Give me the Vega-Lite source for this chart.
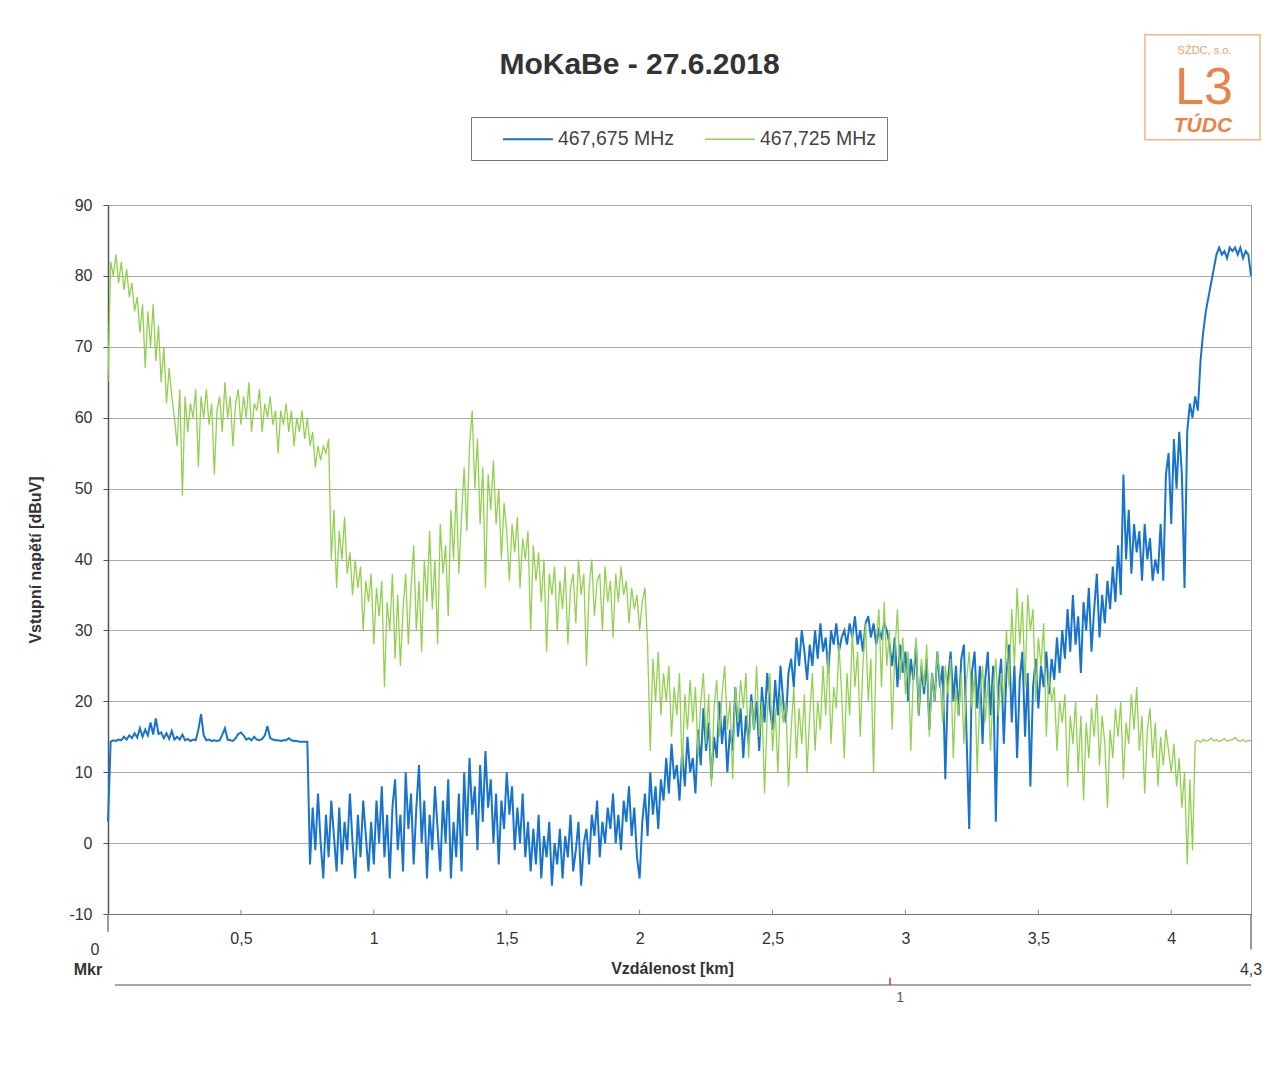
{
"$schema": "https://vega.github.io/schema/vega-lite/v6.json",
"width": 1143, "height": 709,
"autosize": {"type": "none"},
"padding": {"left": 108, "top": 205, "right": 23, "bottom": 152},
"background": "white",
"title": {"text": "MoKaBe - 27.6.2018", "fontSize": 30, "font": "Liberation Sans", "fontWeight": "bold", "color": "#333333", "anchor": "middle", "frame": "group", "dx": -40, "offset": -46},
"config": {"view": {"stroke": "#999999", "strokeWidth": 1}, "font": "Liberation Sans"},
"layer": [
{
"data": {"values": [
{"d":0,"a":3,"b":65},{"d":0.01,"a":14.3,"b":82},{"d":0.02,"a":14.5,"b":80},{"d":0.03,"a":14.4,"b":83},{"d":0.04,"a":14.6,"b":79},{"d":0.05,"a":14.5,"b":82},{"d":0.06,"a":15,"b":78},{"d":0.07,"a":14.6,"b":81},{"d":0.08,"a":15.2,"b":77},{"d":0.09,"a":14.8,"b":79},
{"d":0.1,"a":15.5,"b":75},{"d":0.11,"a":14.9,"b":77},{"d":0.12,"a":16.2,"b":72},{"d":0.13,"a":15,"b":76},{"d":0.14,"a":16,"b":67},{"d":0.15,"a":15.2,"b":75},{"d":0.16,"a":17,"b":70},{"d":0.17,"a":15.3,"b":76},{"d":0.18,"a":17.6,"b":68},{"d":0.19,"a":15.4,"b":73},
{"d":0.2,"a":15.6,"b":65},{"d":0.21,"a":14.8,"b":70},{"d":0.22,"a":15.5,"b":62},{"d":0.23,"a":14.7,"b":67},{"d":0.24,"a":15.8,"b":63},{"d":0.25,"a":14.6,"b":60},{"d":0.26,"a":15,"b":56},{"d":0.27,"a":14.6,"b":64},{"d":0.28,"a":15.3,"b":49},{"d":0.29,"a":14.5,"b":63},
{"d":0.3,"a":14.7,"b":58},{"d":0.31,"a":14.4,"b":62},{"d":0.32,"a":14.6,"b":60},{"d":0.33,"a":14.5,"b":64},{"d":0.34,"a":16,"b":53},{"d":0.35,"a":18.2,"b":63},{"d":0.36,"a":15.2,"b":60},{"d":0.37,"a":14.5,"b":64},{"d":0.38,"a":14.6,"b":59},{"d":0.39,"a":14.4,"b":62},
{"d":0.4,"a":14.5,"b":52},{"d":0.41,"a":14.4,"b":61},{"d":0.42,"a":14.5,"b":63},{"d":0.43,"a":15.3,"b":58},{"d":0.44,"a":16.2,"b":65},{"d":0.45,"a":14.6,"b":60},{"d":0.46,"a":14.5,"b":63},{"d":0.47,"a":14.4,"b":56},{"d":0.48,"a":14.8,"b":62},{"d":0.49,"a":15.4,"b":64},
{"d":0.5,"a":15.6,"b":59},{"d":0.51,"a":15.2,"b":63},{"d":0.52,"a":14.6,"b":60},{"d":0.53,"a":14.8,"b":65},{"d":0.54,"a":14.5,"b":58},{"d":0.55,"a":15,"b":62},{"d":0.56,"a":14.6,"b":61},{"d":0.57,"a":14.5,"b":64},{"d":0.58,"a":14.7,"b":58},{"d":0.59,"a":15.2,"b":62},
{"d":0.6,"a":16.5,"b":60},{"d":0.61,"a":14.8,"b":63},{"d":0.62,"a":14.6,"b":59},{"d":0.63,"a":14.5,"b":61},{"d":0.64,"a":14.5,"b":55},{"d":0.65,"a":14.4,"b":61},{"d":0.66,"a":14.5,"b":59},{"d":0.67,"a":14.5,"b":62},{"d":0.68,"a":14.8,"b":58},{"d":0.69,"a":14.5,"b":61},
{"d":0.7,"a":14.4,"b":56},{"d":0.71,"a":14.4,"b":60},{"d":0.72,"a":14.3,"b":58},{"d":0.73,"a":14.3,"b":61},{"d":0.74,"a":14.3,"b":57},{"d":0.75,"a":14.3,"b":60},{"d":0.76,"a":-3,"b":56},{"d":0.77,"a":5,"b":58},{"d":0.78,"a":-1,"b":53},{"d":0.79,"a":7,"b":56},
{"d":0.8,"a":0,"b":54},{"d":0.81,"a":-5,"b":56},{"d":0.82,"a":4,"b":55},{"d":0.83,"a":-2,"b":57},{"d":0.84,"a":6,"b":40},{"d":0.85,"a":1,"b":47},{"d":0.86,"a":-4,"b":36},{"d":0.87,"a":5,"b":44},{"d":0.88,"a":-3,"b":40},{"d":0.89,"a":3,"b":46},
{"d":0.9,"a":-1,"b":38},{"d":0.91,"a":7,"b":41},{"d":0.92,"a":0,"b":35},{"d":0.93,"a":-5,"b":40},{"d":0.94,"a":4,"b":36},{"d":0.95,"a":-2,"b":39},{"d":0.96,"a":6,"b":30},{"d":0.97,"a":1,"b":37},{"d":0.98,"a":-4,"b":34},{"d":0.99,"a":3,"b":38},
{"d":1,"a":-3,"b":28},{"d":1.01,"a":6,"b":36},{"d":1.02,"a":0,"b":32},{"d":1.03,"a":8,"b":37},{"d":1.04,"a":-2,"b":22},{"d":1.05,"a":4,"b":34},{"d":1.06,"a":-5,"b":30},{"d":1.07,"a":5,"b":38},{"d":1.08,"a":9,"b":26},{"d":1.09,"a":-1,"b":35},
{"d":1.1,"a":4,"b":25},{"d":1.11,"a":-4,"b":33},{"d":1.12,"a":10,"b":38},{"d":1.13,"a":2,"b":28},{"d":1.14,"a":7,"b":36},{"d":1.15,"a":-3,"b":42},{"d":1.16,"a":5,"b":30},{"d":1.17,"a":11,"b":37},{"d":1.18,"a":0,"b":27},{"d":1.19,"a":6,"b":40},
{"d":1.2,"a":-5,"b":34},{"d":1.21,"a":4,"b":44},{"d":1.22,"a":-1,"b":33},{"d":1.23,"a":8,"b":40},{"d":1.24,"a":2,"b":28},{"d":1.25,"a":-4,"b":45},{"d":1.26,"a":6,"b":38},{"d":1.27,"a":0,"b":42},{"d":1.28,"a":9,"b":32},{"d":1.29,"a":-5,"b":47},
{"d":1.3,"a":3,"b":40},{"d":1.31,"a":-2,"b":50},{"d":1.32,"a":7,"b":38},{"d":1.33,"a":-4,"b":46},{"d":1.34,"a":10,"b":53},{"d":1.35,"a":1,"b":44},{"d":1.36,"a":12,"b":56},{"d":1.37,"a":4,"b":61},{"d":1.38,"a":8,"b":50},{"d":1.39,"a":-1,"b":57},
{"d":1.4,"a":11,"b":45},{"d":1.41,"a":3,"b":53},{"d":1.42,"a":13,"b":36},{"d":1.43,"a":5,"b":52},{"d":1.44,"a":9,"b":47},{"d":1.45,"a":0,"b":54},{"d":1.46,"a":7,"b":45},{"d":1.47,"a":-3,"b":50},{"d":1.48,"a":6,"b":40},{"d":1.49,"a":2,"b":48},
{"d":1.5,"a":10,"b":44},{"d":1.51,"a":4,"b":37},{"d":1.52,"a":8,"b":45},{"d":1.53,"a":-1,"b":41},{"d":1.54,"a":5,"b":46},{"d":1.55,"a":0,"b":36},{"d":1.56,"a":7,"b":43},{"d":1.57,"a":-2,"b":40},{"d":1.58,"a":3,"b":44},{"d":1.59,"a":-4,"b":30},
{"d":1.6,"a":2,"b":42},{"d":1.61,"a":-3,"b":37},{"d":1.62,"a":4,"b":41},{"d":1.63,"a":-5,"b":34},{"d":1.64,"a":1,"b":40},{"d":1.65,"a":-2,"b":27},{"d":1.66,"a":3,"b":38},{"d":1.67,"a":-6,"b":35},{"d":1.68,"a":0,"b":39},{"d":1.69,"a":-3,"b":30},
{"d":1.7,"a":2,"b":37},{"d":1.71,"a":-5,"b":33},{"d":1.72,"a":1,"b":39},{"d":1.73,"a":-2,"b":28},{"d":1.74,"a":4,"b":36},{"d":1.75,"a":-4,"b":38},{"d":1.76,"a":-1,"b":31},{"d":1.77,"a":3,"b":40},{"d":1.78,"a":-6,"b":35},{"d":1.79,"a":0,"b":38},
{"d":1.8,"a":2,"b":25},{"d":1.81,"a":-3,"b":36},{"d":1.82,"a":4,"b":40},{"d":1.83,"a":1,"b":32},{"d":1.84,"a":6,"b":37},{"d":1.85,"a":-2,"b":38},{"d":1.86,"a":3,"b":30},{"d":1.87,"a":0,"b":39},{"d":1.88,"a":5,"b":34},{"d":1.89,"a":2,"b":37},
{"d":1.9,"a":7,"b":29},{"d":1.91,"a":0,"b":38},{"d":1.92,"a":4,"b":34},{"d":1.93,"a":-1,"b":39},{"d":1.94,"a":6,"b":35},{"d":1.95,"a":3,"b":37},{"d":1.96,"a":8,"b":31},{"d":1.97,"a":1,"b":36},{"d":1.98,"a":5,"b":33},{"d":1.99,"a":-2,"b":35},
{"d":2,"a":-5,"b":30},{"d":2.01,"a":3,"b":34},{"d":2.02,"a":7,"b":36},{"d":2.03,"a":1,"b":28},{"d":2.04,"a":10,"b":13},{"d":2.05,"a":4,"b":26},{"d":2.06,"a":8,"b":20},{"d":2.07,"a":2,"b":27},{"d":2.08,"a":9,"b":18},{"d":2.09,"a":6,"b":24},
{"d":2.1,"a":12,"b":20},{"d":2.11,"a":7,"b":25},{"d":2.12,"a":14,"b":15},{"d":2.13,"a":9,"b":22},{"d":2.14,"a":11,"b":18},{"d":2.15,"a":6,"b":24},{"d":2.16,"a":13,"b":10},{"d":2.17,"a":8,"b":21},{"d":2.18,"a":15,"b":16},{"d":2.19,"a":10,"b":23},
{"d":2.2,"a":12,"b":17},{"d":2.21,"a":7,"b":22},{"d":2.22,"a":16,"b":12},{"d":2.23,"a":11,"b":20},{"d":2.24,"a":19,"b":24},{"d":2.25,"a":13,"b":14},{"d":2.26,"a":17,"b":21},{"d":2.27,"a":9,"b":8},{"d":2.28,"a":15,"b":19},{"d":2.29,"a":12,"b":23},
{"d":2.3,"a":20,"b":15},{"d":2.31,"a":14,"b":21},{"d":2.32,"a":18,"b":25},{"d":2.33,"a":10,"b":16},{"d":2.34,"a":16,"b":20},{"d":2.35,"a":13,"b":9},{"d":2.36,"a":22,"b":22},{"d":2.37,"a":15,"b":17},{"d":2.38,"a":19,"b":23},{"d":2.39,"a":12,"b":19},
{"d":2.4,"a":18,"b":24},{"d":2.41,"a":14,"b":12},{"d":2.42,"a":21,"b":20},{"d":2.43,"a":16,"b":16},{"d":2.44,"a":20,"b":25},{"d":2.45,"a":13,"b":15},{"d":2.46,"a":22,"b":20},{"d":2.47,"a":17,"b":7},{"d":2.48,"a":24,"b":18},{"d":2.49,"a":19,"b":24},
{"d":2.5,"a":16,"b":13},{"d":2.51,"a":23,"b":19},{"d":2.52,"a":18,"b":10},{"d":2.53,"a":25,"b":21},{"d":2.54,"a":20,"b":17},{"d":2.55,"a":17,"b":20},{"d":2.56,"a":24,"b":8},{"d":2.57,"a":26,"b":16},{"d":2.58,"a":22,"b":22},{"d":2.59,"a":29,"b":12},
{"d":2.6,"a":25,"b":19},{"d":2.61,"a":30,"b":14},{"d":2.62,"a":27,"b":21},{"d":2.63,"a":23,"b":10},{"d":2.64,"a":28,"b":18},{"d":2.65,"a":25,"b":24},{"d":2.66,"a":30,"b":13},{"d":2.67,"a":26,"b":20},{"d":2.68,"a":31,"b":16},{"d":2.69,"a":27,"b":25},
{"d":2.7,"a":29,"b":18},{"d":2.71,"a":24,"b":27},{"d":2.72,"a":30,"b":14},{"d":2.73,"a":28,"b":22},{"d":2.74,"a":31,"b":19},{"d":2.75,"a":27,"b":28},{"d":2.76,"a":29,"b":21},{"d":2.77,"a":30,"b":12},{"d":2.78,"a":28,"b":24},{"d":2.79,"a":31,"b":18},
{"d":2.8,"a":29,"b":30},{"d":2.81,"a":32,"b":22},{"d":2.82,"a":28,"b":27},{"d":2.83,"a":30,"b":15},{"d":2.84,"a":27,"b":25},{"d":2.85,"a":31,"b":31},{"d":2.86,"a":32,"b":20},{"d":2.87,"a":29,"b":26},{"d":2.88,"a":31,"b":10},{"d":2.89,"a":28,"b":28},
{"d":2.9,"a":30,"b":33},{"d":2.91,"a":29,"b":22},{"d":2.92,"a":31,"b":34},{"d":2.93,"a":30,"b":25},{"d":2.94,"a":28,"b":30},{"d":2.95,"a":25,"b":16},{"d":2.96,"a":29,"b":27},{"d":2.97,"a":22,"b":33},{"d":2.98,"a":28,"b":23},{"d":2.99,"a":24,"b":29},
{"d":3,"a":27,"b":21},{"d":3.01,"a":20,"b":27},{"d":3.02,"a":26,"b":13},{"d":3.03,"a":23,"b":24},{"d":3.04,"a":28,"b":29},{"d":3.05,"a":18,"b":18},{"d":3.06,"a":25,"b":26},{"d":3.07,"a":21,"b":22},{"d":3.08,"a":26,"b":28},{"d":3.09,"a":16,"b":15},
{"d":3.1,"a":24,"b":24},{"d":3.11,"a":20,"b":20},{"d":3.12,"a":27,"b":27},{"d":3.13,"a":22,"b":23},{"d":3.14,"a":25,"b":17},{"d":3.15,"a":9,"b":25},{"d":3.16,"a":23,"b":21},{"d":3.17,"a":27,"b":26},{"d":3.18,"a":20,"b":12},{"d":3.19,"a":25,"b":22},
{"d":3.2,"a":18,"b":18},{"d":3.21,"a":26,"b":24},{"d":3.22,"a":28,"b":14},{"d":3.23,"a":15,"b":23},{"d":3.24,"a":2,"b":27},{"d":3.25,"a":24,"b":19},{"d":3.26,"a":27,"b":24},{"d":3.27,"a":19,"b":10},{"d":3.28,"a":25,"b":21},{"d":3.29,"a":14,"b":25},
{"d":3.3,"a":23,"b":17},{"d":3.31,"a":27,"b":23},{"d":3.32,"a":18,"b":13},{"d":3.33,"a":25,"b":22},{"d":3.34,"a":3,"b":26},{"d":3.35,"a":22,"b":18},{"d":3.36,"a":26,"b":24},{"d":3.37,"a":14,"b":20},{"d":3.38,"a":24,"b":30},{"d":3.39,"a":28,"b":22},
{"d":3.4,"a":17,"b":33},{"d":3.41,"a":25,"b":25},{"d":3.42,"a":12,"b":36},{"d":3.43,"a":23,"b":28},{"d":3.44,"a":27,"b":34},{"d":3.45,"a":15,"b":22},{"d":3.46,"a":24,"b":35},{"d":3.47,"a":8,"b":30},{"d":3.48,"a":22,"b":33},{"d":3.49,"a":26,"b":20},
{"d":3.5,"a":19,"b":29},{"d":3.51,"a":25,"b":25},{"d":3.52,"a":22,"b":31},{"d":3.53,"a":27,"b":15},{"d":3.54,"a":21,"b":24},{"d":3.55,"a":26,"b":20},{"d":3.56,"a":23,"b":22},{"d":3.57,"a":29,"b":13},{"d":3.58,"a":24,"b":20},{"d":3.59,"a":30,"b":17},
{"d":3.6,"a":26,"b":21},{"d":3.61,"a":33,"b":8},{"d":3.62,"a":27,"b":18},{"d":3.63,"a":35,"b":14},{"d":3.64,"a":28,"b":20},{"d":3.65,"a":32,"b":10},{"d":3.66,"a":24,"b":18},{"d":3.67,"a":34,"b":6},{"d":3.68,"a":30,"b":17},{"d":3.69,"a":36,"b":12},
{"d":3.7,"a":27,"b":19},{"d":3.71,"a":33,"b":15},{"d":3.72,"a":38,"b":21},{"d":3.73,"a":29,"b":11},{"d":3.74,"a":35,"b":18},{"d":3.75,"a":31,"b":14},{"d":3.76,"a":37,"b":5},{"d":3.77,"a":33,"b":16},{"d":3.78,"a":39,"b":12},{"d":3.79,"a":34,"b":19},
{"d":3.8,"a":42,"b":15},{"d":3.81,"a":35,"b":20},{"d":3.82,"a":52,"b":9},{"d":3.83,"a":40,"b":17},{"d":3.84,"a":47,"b":14},{"d":3.85,"a":38,"b":21},{"d":3.86,"a":45,"b":16},{"d":3.87,"a":41,"b":22},{"d":3.88,"a":44,"b":13},{"d":3.89,"a":37,"b":18},
{"d":3.9,"a":45,"b":7},{"d":3.91,"a":40,"b":16},{"d":3.92,"a":43,"b":19},{"d":3.93,"a":37,"b":12},{"d":3.94,"a":40,"b":17},{"d":3.95,"a":38,"b":8},{"d":3.96,"a":45,"b":15},{"d":3.97,"a":37,"b":11},{"d":3.98,"a":52,"b":16},{"d":3.99,"a":55,"b":13},
{"d":4,"a":45,"b":10},{"d":4.01,"a":57,"b":14},{"d":4.02,"a":50,"b":8},{"d":4.03,"a":58,"b":12},{"d":4.04,"a":52,"b":5},{"d":4.05,"a":36,"b":10},{"d":4.06,"a":58,"b":-3},{"d":4.07,"a":62,"b":9},{"d":4.08,"a":60,"b":-1},{"d":4.09,"a":63,"b":14.3},
{"d":4.1,"a":61,"b":14.5},{"d":4.11,"a":68,"b":14.2},{"d":4.12,"a":72,"b":14.6},{"d":4.13,"a":75,"b":14.4},{"d":4.14,"a":77,"b":14.5},{"d":4.15,"a":79,"b":14.8},{"d":4.16,"a":81,"b":14.4},{"d":4.17,"a":83,"b":14.6},{"d":4.18,"a":84,"b":14.3},{"d":4.19,"a":83,"b":14.5},
{"d":4.2,"a":83.5,"b":14.7},{"d":4.21,"a":82.5,"b":14.4},{"d":4.22,"a":84,"b":14.5},{"d":4.23,"a":83.5,"b":14.6},{"d":4.24,"a":84,"b":14.9},{"d":4.25,"a":83,"b":14.5},{"d":4.26,"a":84,"b":14.4},{"d":4.27,"a":82.5,"b":14.6},{"d":4.28,"a":83.5,"b":14.3},{"d":4.29,"a":83,"b":14.5},
{"d":4.3,"a":80,"b":14.4}
]},
"transform": [{"fold": ["a", "b"], "as": ["s", "v"]}],
"mark": {"type": "line", "interpolate": "linear"},
"encoding": {
"x": {"field": "d", "type": "quantitative", "scale": {"domain": [0, 4.3], "nice": false, "zero": false},
 "axis": {"title": "Vzdálenost [km]", "titleFontSize": 16, "titleFont": "Liberation Sans", "titleFontWeight": "bold", "titleColor": "#333333", "titleX": 564, "titleY": 54, "titleBaseline": "middle", "titleAlign": "center",
  "values": [0.5, 1, 1.5, 2, 2.5, 3, 3.5, 4], "labelExpr": "replace(toString(datum.value), '.', ',')", "labelFontSize": 16, "labelFont": "Liberation Sans", "labelColor": "#333333", "labelPadding": 16, "labelFlush": false, "labelOverlap": false,
  "ticks": false, "domainColor": "#777777", "grid": false}},
"y": {"field": "v", "type": "quantitative", "scale": {"domain": [-10, 90], "nice": false},
 "axis": {"title": "Vstupní napětí [dBuV]", "titleFontSize": 16, "titleFont": "Liberation Sans", "titleFontWeight": "bold", "titleColor": "#333333", "titleX": -73, "titleY": 354.5, "titleAngle": 270, "titleBaseline": "middle", "titleAlign": "center",
  "values": [-10, 0, 10, 20, 30, 40, 50, 60, 70, 80, 90], "labelExpr": "toString(datum.value)", "labelFontSize": 16, "labelFont": "Liberation Sans", "labelColor": "#333333", "labelPadding": 11, "tickSize": 5, "tickColor": "#555555", "domainColor": "#555555", "domainWidth": 1.5, "grid": true, "gridColor": "#a8a8a8", "gridWidth": 1}},
"color": {"field": "s", "type": "nominal", "scale": {"domain": ["a", "b"], "range": ["#1873cd", "#92d050"]},
 "legend": {"title": null, "orient": "none", "legendX": 363, "legendY": -88, "direction": "horizontal", "symbolType": "M1,0H6", "symbolSize": 400, "symbolStrokeWidth": 2, "labelOffset": 54, "columnPadding": 10, "padding": 11, "strokeColor": "#777777", "fillColor": "white", "labelFontSize": 19.5, "labelColor": "#444444", "labelFont": "Liberation Sans", "labelExpr": "datum.label === 'a' ? '467,675 MHz' : '467,725 MHz'"}},
"strokeWidth": {"field": "s", "type": "nominal", "scale": {"domain": ["a", "b"], "range": [2, 1.3]}, "legend": null}
}
},
{
"data": {"values": [{"x": 0.026, "x2": 4.3, "y": -20}]},
"mark": {"type": "rule", "color": "#888888", "strokeWidth": 1.5},
"encoding": {"x": {"field": "x", "type": "quantitative", "scale": {"domain": [0, 4.3], "nice": false, "zero": false}}, "x2": {"field": "x2"}, "y": {"field": "y", "type": "quantitative", "scale": {"domain": [-10, 90], "nice": false}}}
},
{
"data": {"values": [{"x": 2.942, "y": -19, "y2": -20}]},
"mark": {"type": "rule", "color": "#e03030", "strokeWidth": 1.5},
"encoding": {"x": {"field": "x", "type": "quantitative", "scale": {"domain": [0, 4.3], "nice": false, "zero": false}}, "y": {"field": "y", "type": "quantitative", "scale": {"domain": [-10, 90], "nice": false}}, "y2": {"field": "y2"}}
},
{
"data": {"values": [{"x": 0, "y": -10, "y2": -12.5}, {"x": 4.3, "y": -10, "y2": -15}]},
"mark": {"type": "rule", "color": "#777777", "strokeWidth": 1.5},
"encoding": {"x": {"field": "x", "type": "quantitative", "scale": {"domain": [0, 4.3], "nice": false, "zero": false}}, "y": {"field": "y", "type": "quantitative", "scale": {"domain": [-10, 90], "nice": false}}, "y2": {"field": "y2"}}
},
{
"data": {"values": [{"x": 0.5, "y": -10, "y2": -9.4}, {"x": 1, "y": -10, "y2": -9.4}, {"x": 1.5, "y": -10, "y2": -9.4}, {"x": 2, "y": -10, "y2": -9.4}, {"x": 2.5, "y": -10, "y2": -9.4}, {"x": 3, "y": -10, "y2": -9.4}, {"x": 3.5, "y": -10, "y2": -9.4}, {"x": 4, "y": -10, "y2": -9.4}]},
"mark": {"type": "rule", "color": "#888888", "strokeWidth": 1},
"encoding": {"x": {"field": "x", "type": "quantitative", "scale": {"domain": [0, 4.3], "nice": false, "zero": false}}, "y": {"field": "y", "type": "quantitative", "scale": {"domain": [-10, 90], "nice": false}}, "y2": {"field": "y2"}}
},
{
"data": {"values": [{"x": 2.98, "y": -21.9, "t": "1"}]},
"mark": {"type": "text", "fontSize": 14, "color": "#555555", "align": "center", "baseline": "middle", "font": "Liberation Sans"},
"encoding": {"x": {"field": "x", "type": "quantitative", "scale": {"domain": [0, 4.3], "nice": false, "zero": false}}, "y": {"field": "y", "type": "quantitative", "scale": {"domain": [-10, 90], "nice": false}}, "text": {"field": "t"}}
},
{
"data": {"values": [{"x": -0.049, "y": -15.1, "t": "0"}, {"x": 4.3, "y": -17.9, "t": "4,3"}]},
"mark": {"type": "text", "fontSize": 16, "color": "#333333", "align": "center", "baseline": "middle", "font": "Liberation Sans"},
"encoding": {"x": {"field": "x", "type": "quantitative", "scale": {"domain": [0, 4.3], "nice": false, "zero": false}}, "y": {"field": "y", "type": "quantitative", "scale": {"domain": [-10, 90], "nice": false}}, "text": {"field": "t"}}
},
{
"data": {"values": [{"x": -0.022, "y": -17.9, "t": "Mkr"}]},
"mark": {"type": "text", "fontSize": 16, "fontWeight": "bold", "color": "#333333", "align": "right", "baseline": "middle", "font": "Liberation Sans"},
"encoding": {"x": {"field": "x", "type": "quantitative", "scale": {"domain": [0, 4.3], "nice": false, "zero": false}}, "y": {"field": "y", "type": "quantitative", "scale": {"domain": [-10, 90], "nice": false}}, "text": {"field": "t"}}
},
{
"data": {"values": [{"x": 3.901, "x2": 4.334, "y": 99.2, "y2": 114.0}]},
"mark": {"type": "rect", "fill": null, "stroke": "#f2b48a", "strokeWidth": 1.5},
"encoding": {"x": {"field": "x", "type": "quantitative", "scale": {"domain": [0, 4.3], "nice": false, "zero": false}}, "x2": {"field": "x2"}, "y": {"field": "y", "type": "quantitative", "scale": {"domain": [-10, 90], "nice": false}}, "y2": {"field": "y2"}}
},
{
"data": {"values": [{"x": 4.125, "y": 111.3, "t": "SŽDC, s.o."}]},
"mark": {"type": "text", "align": "center", "baseline": "alphabetic", "font": "Liberation Sans", "fontSize": 11, "color": "#eba070"},
"encoding": {"x": {"field": "x", "type": "quantitative", "scale": {"domain": [0, 4.3], "nice": false, "zero": false}}, "y": {"field": "y", "type": "quantitative", "scale": {"domain": [-10, 90], "nice": false}}, "text": {"field": "t"}}
},
{
"data": {"values": [{"x": 4.123, "y": 104.2, "t": "L3"}]},
"mark": {"type": "text", "align": "center", "baseline": "alphabetic", "font": "Liberation Sans", "fontSize": 52, "color": "#e8834a"},
"encoding": {"x": {"field": "x", "type": "quantitative", "scale": {"domain": [0, 4.3], "nice": false, "zero": false}}, "y": {"field": "y", "type": "quantitative", "scale": {"domain": [-10, 90], "nice": false}}, "text": {"field": "t"}}
},
{
"data": {"values": [{"x": 4.119, "y": 100.3, "t": "TÚDC"}]},
"mark": {"type": "text", "align": "center", "baseline": "alphabetic", "font": "Liberation Sans", "fontSize": 21, "fontStyle": "italic", "fontWeight": "bold", "color": "#e8834a"},
"encoding": {"x": {"field": "x", "type": "quantitative", "scale": {"domain": [0, 4.3], "nice": false, "zero": false}}, "y": {"field": "y", "type": "quantitative", "scale": {"domain": [-10, 90], "nice": false}}, "text": {"field": "t"}}
}
]
}
